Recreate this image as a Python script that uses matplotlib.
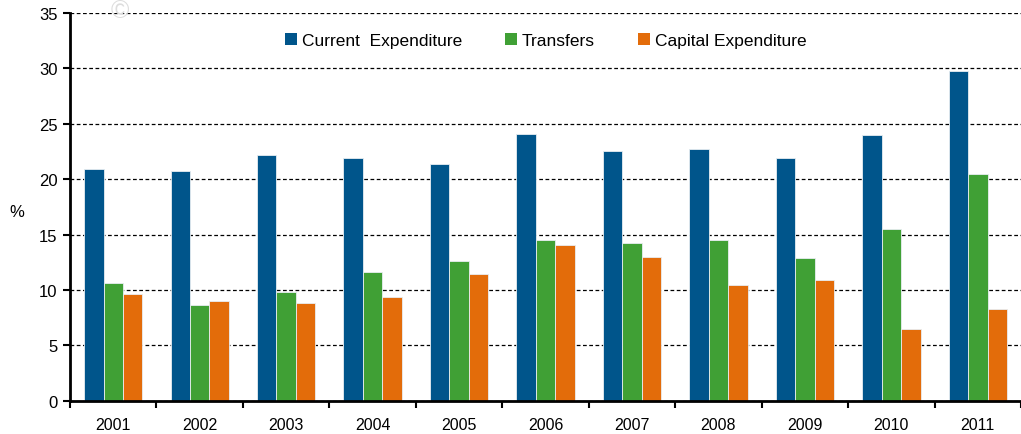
import matplotlib
matplotlib.use('Agg')

import numpy as np
import matplotlib.pyplot as plt
from matplotlib.patches import Patch

years = ['2001', '2002', '2003', '2004', '2005', '2006', '2007', '2008', '2009', '2010', '2011']
current_exp = [20.9, 20.7, 22.2, 21.9, 21.4, 24.1, 22.5, 22.75, 21.9, 24.0, 29.75]
transfers = [10.65, 8.6, 9.8, 11.65, 12.6, 14.5, 14.2, 14.5, 12.9, 15.5, 20.45]
capital_exp = [9.6, 8.97, 8.85, 9.33, 11.4, 14.1, 13.0, 10.45, 10.9, 6.5, 8.25]

series_names = ['Current  Expenditure', 'Transfers', 'Capital Expenditure']
colors = ['#00558B', '#40A035', '#E36C0A']

plt.rcParams['font.family'] = ['Liberation Sans', 'DejaVu Sans']

fig = plt.figure(figsize=(10.21, 4.35), dpi=100)
ax = fig.add_axes([0.0686, 0.0766, 0.9314, 0.8912])

x = np.arange(len(years))
w = 0.225
for i, (vals, c) in enumerate(zip([current_exp, transfers, capital_exp], colors)):
    ax.bar(x + (i - 1) * w, vals, width=w, color=c, edgecolor='#e8eef2',
           linewidth=0.6, zorder=3)

ax.set_xlim(-0.5, len(years) - 0.5)
ax.set_ylim(0, 35)
ax.set_yticks(np.arange(0, 36, 5))
ax.set_xticks(x)
ax.set_xticklabels(years)
ax.set_xticks(np.arange(-0.5, len(years), 1), minor=True)
ax.tick_params(axis='x', which='major', length=0, pad=12, labelsize=11.5)
ax.tick_params(axis='x', which='minor', length=5, width=1.5, direction='out')
ax.tick_params(axis='y', length=5, width=1.5, direction='out', labelsize=12, pad=4)

ax.yaxis.grid(True, color='black', linestyle=(0, (3, 2)), linewidth=0.9, zorder=0)
ax.set_axisbelow(True)
for s in ['top', 'right']:
    ax.spines[s].set_visible(False)
for s in ['left', 'bottom']:
    ax.spines[s].set_linewidth(2)
    ax.spines[s].set_zorder(4)

fig.text(0.0166, 0.512, '%', fontsize=12, ha='center', va='center')
# faint watermark near the top
fig.text(0.117, 0.975, '\u00a9', fontsize=18, color='#dddddd', ha='center', va='center')

handles = [Patch(facecolor=c, edgecolor='none') for c in colors]
ax.legend(handles, series_names, loc='center', bbox_to_anchor=(0.5, 0.928), ncol=3,
          frameon=False, fontsize=12.5, handlelength=0.7, handleheight=0.7,
          handletextpad=0.3, columnspacing=2.45)

plt.savefig('out.png', dpi=100)
plt.close()
